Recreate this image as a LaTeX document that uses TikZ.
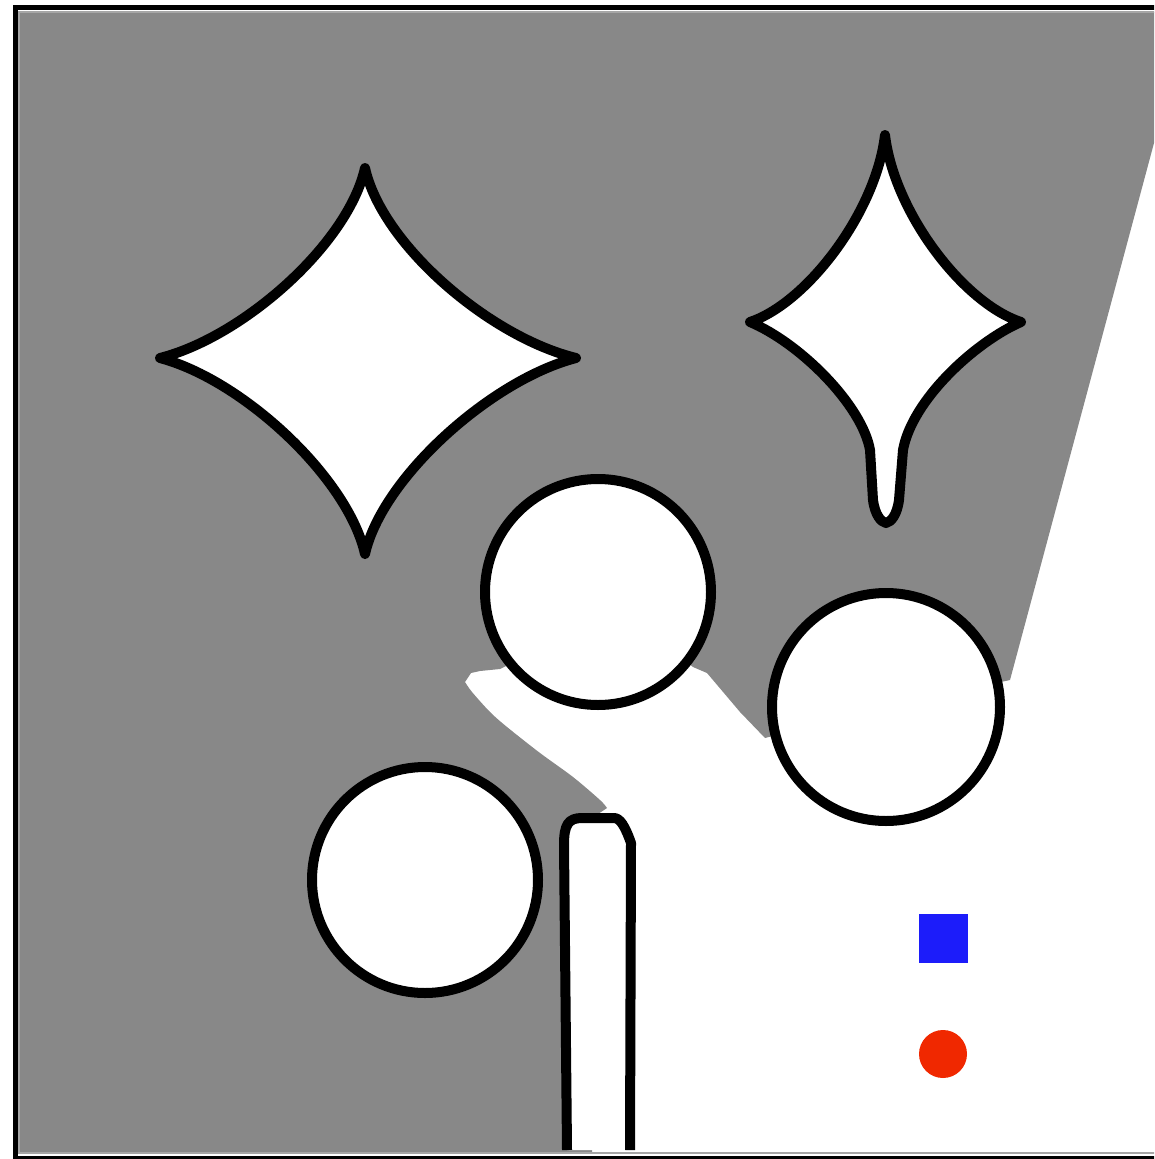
\documentclass[tikz,border=0pt]{standalone}
\definecolor{fieldgray}{RGB}{136,136,136}
\definecolor{markblue}{RGB}{28,28,250}
\definecolor{markred}{RGB}{240,40,0}
\tikzset{
  obstacle/.style={draw=black,line width=10pt,fill=white,line join=round},
  framethick/.style={draw=black,line width=5pt},
  framethin/.style={draw=black!35,line width=1.6pt}
}
\begin{document}
\begin{tikzpicture}[x=1pt,y=-1pt]
\useasboundingbox (0,0) rectangle (1154,1159);
\clip (0,0) rectangle (1154,1159);
\fill[white] (0,0) rectangle (1154,1159);
% gray field
\fill[fieldgray] (19,12) -- (1170,12) -- (1170,143) -- (1154,143) -- (1010,680)
  -- (886,707) -- (765,738) -- (740,712) -- (707,673) -- (693,667) -- (598,592)
  -- (506,666) -- (500,669) -- (480,671) -- (471,673) -- (465,682)
  -- plot[smooth] coordinates {(465,682) (472,692) (490,712) (507,727) (540,753) (573,777) (600,800) (607,808)}
  -- (592,818) -- (592,1153) -- (19,1153) -- cycle;
% left star
\draw[obstacle] (365,168) .. controls (382,245) and (490,337) .. (576,358)
  .. controls (491,380) and (382,478) .. (365,554)
  .. controls (348,478) and (243,380) .. (160,358)
  .. controls (243,337) and (348,244) .. cycle;
% right star
\draw[obstacle] (885,135) .. controls (894,212) and (963,303) .. (1021,322)
  .. controls (975,342) and (912,400) .. (903,450) -- (899,500)
  .. controls (897,515) and (891,522) .. (886,523)
  .. controls (881,522) and (875,515) .. (873,500) -- (870,450)
  .. controls (862,405) and (800,343) .. (750,322)
  .. controls (807,303) and (876,212) .. cycle;
% circles
\draw[obstacle] (598,592) circle[radius=113];
\draw[obstacle] (886,707) circle[radius=114];
\draw[obstacle] (425,880) circle[radius=113];
% bar
\draw[obstacle] (567,1150) -- (564,845) .. controls (564,825) and (568,818) .. (582,818)
  -- (614,818) .. controls (620,818) and (625,826) .. (631,843) -- (630,1150);
% markers
\fill[markblue] (919,914) rectangle (968,963);
\fill[markred] (943,1054) circle[radius=24];
% frame
\draw[framethin] (19,12) rectangle (1175,1153);
\draw[framethick] (15,7) rectangle (1180,1158);
\end{tikzpicture}
\end{document}
